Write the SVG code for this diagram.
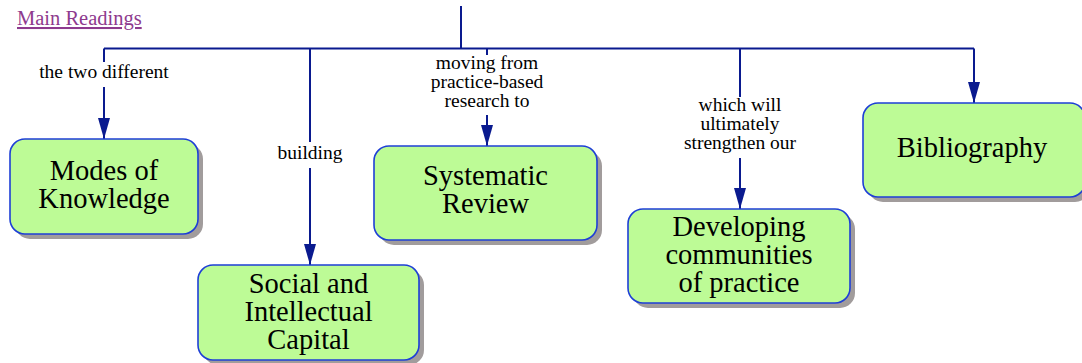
<svg xmlns="http://www.w3.org/2000/svg" width="1082" height="363" viewBox="0 0 1082 363">
<style>
.sh{fill:#a19c9c}
.bx{fill:#bdfb96;stroke:#1e3fd6;stroke-width:1.6}
.nt{font-family:'Liberation Serif',serif;font-size:28.5px;fill:#000;text-anchor:middle}
.lt{font-family:'Liberation Serif',serif;font-size:19.5px;fill:#000;text-anchor:middle}
.cn{fill:none;stroke:#0a1a8f;stroke-width:2}
.ml{font-family:'Liberation Serif',serif;font-size:20.5px;fill:#8e3a8e;text-decoration:underline}
</style>
<defs>
<marker id="ah" viewBox="0 -6 21 12" refX="21" refY="0" markerWidth="21" markerHeight="12" markerUnits="userSpaceOnUse" orient="auto">
<path d="M0,-6 L21,0 L0,6 z" fill="#0a1a8f"/>
</marker>
</defs>
<text class="ml" x="17" y="25">Main Readings</text>
<g id="connectors">
<path class="cn" d="M461,6 V48.5"/>
<path class="cn" d="M104,48.5 H974"/>
<path class="cn" d="M104,48.5 V62"/>
<path class="cn" d="M104,87 V139" marker-end="url(#ah)"/>
<path class="cn" d="M310,48.5 V142"/>
<path class="cn" d="M310,168 V265" marker-end="url(#ah)"/>
<path class="cn" d="M487,48.5 V55"/>
<path class="cn" d="M487,115 V146" marker-end="url(#ah)"/>
<path class="cn" d="M740,48.5 V97"/>
<path class="cn" d="M740,158 V209" marker-end="url(#ah)"/>
<path class="cn" d="M974,48.5 V103" marker-end="url(#ah)"/>
<text class="lt" x="104" y="78">the two different</text>
<text class="lt" x="310" y="159">building</text>
<text class="lt"><tspan x="487" y="69">moving from</tspan><tspan x="487" y="88">practice-based</tspan><tspan x="487" y="107">research to</tspan></text>
<text class="lt"><tspan x="740" y="111">which will</tspan><tspan x="740" y="130">ultimately</tspan><tspan x="740" y="149">strengthen our</tspan></text>
</g>
<g id="modes">
<rect class="sh" x="15" y="144" width="188" height="95" rx="15"/>
<rect class="bx" x="10" y="139" width="188" height="95" rx="15"/>
<text class="nt"><tspan x="104" y="180">Modes of</tspan><tspan x="104" y="208">Knowledge</tspan></text>
</g>
<g id="social">
<rect class="sh" x="203" y="270" width="221" height="95" rx="15"/>
<rect class="bx" x="198" y="265" width="221" height="95" rx="15"/>
<text class="nt"><tspan x="308.5" y="293">Social and</tspan><tspan x="308.5" y="321">Intellectual</tspan><tspan x="308.5" y="349">Capital</tspan></text>
</g>
<g id="systematic">
<rect class="sh" x="379" y="151" width="223" height="94" rx="15"/>
<rect class="bx" x="374" y="146" width="223" height="94" rx="15"/>
<text class="nt"><tspan x="485.5" y="185">Systematic</tspan><tspan x="485.5" y="213">Review</tspan></text>
</g>
<g id="developing">
<rect class="sh" x="633" y="214" width="222" height="94" rx="15"/>
<rect class="bx" x="628" y="209" width="222" height="94" rx="15"/>
<text class="nt"><tspan x="739" y="236">Developing</tspan><tspan x="739" y="264">communities</tspan><tspan x="739" y="292">of practice</tspan></text>
</g>
<g id="bibliography">
<rect class="sh" x="868" y="108" width="222" height="94" rx="15"/>
<rect class="bx" x="863" y="103" width="222" height="94" rx="15"/>
<text class="nt" x="972" y="157">Bibliography</text>
</g>
</svg>
